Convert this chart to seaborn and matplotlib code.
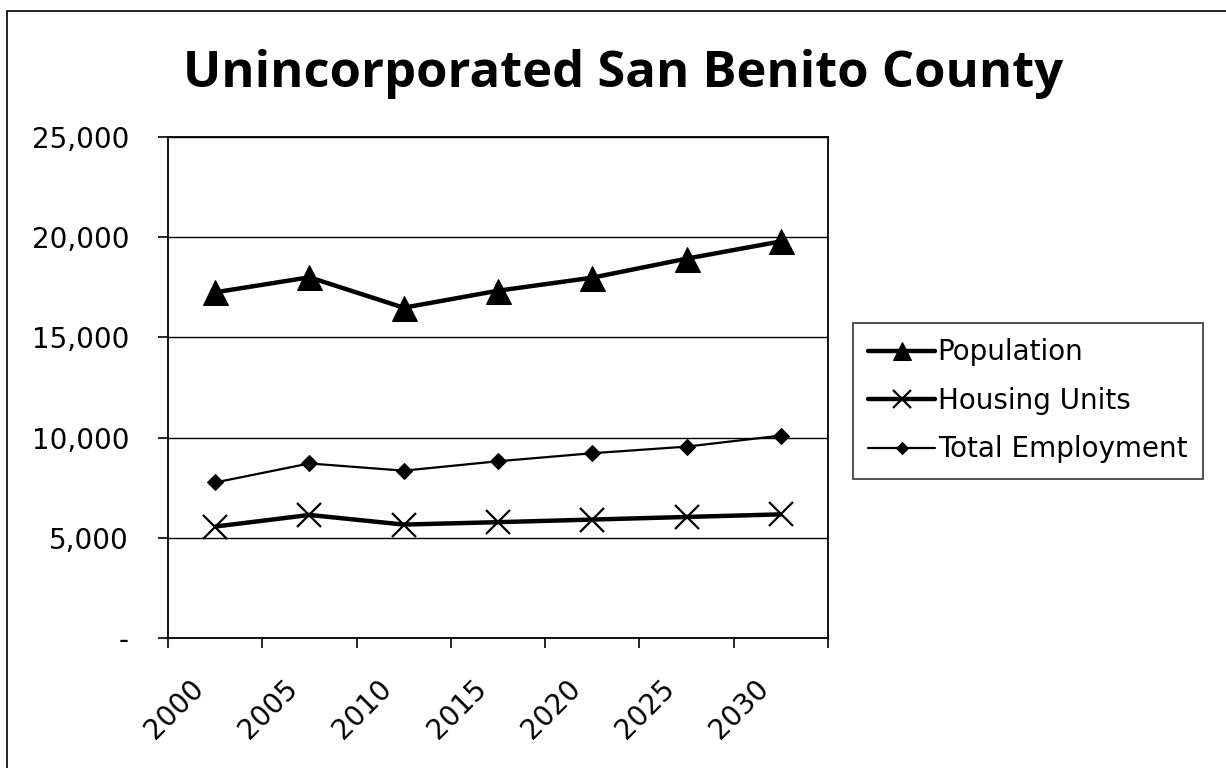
import matplotlib
matplotlib.use("Agg")
import matplotlib.pyplot as plt
import matplotlib.ticker as mticker
import matplotlib.transforms as mtransforms
import seaborn as sns
from matplotlib.patches import Rectangle

# Chart data
years = ["2000", "2005", "2010", "2015", "2020", "2025", "2030"]
population = [17250, 18000, 16480, 17330, 17980, 18930, 19790]
housing_units = [5560, 6140, 5660, 5780, 5910, 6040, 6170]
total_employment = [7760, 8710, 8350, 8820, 9220, 9550, 10100]
y_ticks = [0, 5000, 10000, 15000, 20000, 25000]

sns.set_theme(style="white", rc={
    "text.color": "black",
    "axes.labelcolor": "black",
    "xtick.color": "black",
    "ytick.color": "black",
})
plt.rcParams["font.family"] = ["DejaVu Sans"]

W, H = 1226, 768
fig = plt.figure(figsize=(W / 100, H / 100), dpi=100)
fig.patch.set_facecolor("white")

# Plot area, placed in pixel terms
ax = fig.add_axes([168 / W, 1 - 638 / H, (828 - 168) / W, (638 - 137) / H])

x = list(range(len(years)))
sns.lineplot(x=x, y=population, ax=ax, color="black", linewidth=3.2,
             marker="^", markersize=18, markeredgecolor="black",
             markerfacecolor="black", label="Population")
sns.lineplot(x=x, y=housing_units, ax=ax, color="black", linewidth=3.2,
             marker="x", markersize=17, markeredgecolor="black",
             markeredgewidth=1.6, label="Housing Units")
sns.lineplot(x=x, y=total_employment, ax=ax, color="black", linewidth=1.6,
             marker="D", markersize=8, markeredgecolor="black",
             markerfacecolor="black", label="Total Employment")

ax.set_xlim(-0.5, len(years) - 0.5)
ax.set_ylim(0, 25000)

# y axis
ax.set_yticks(y_ticks)
ax.yaxis.set_major_formatter(
    mticker.FuncFormatter(lambda v, p: "-" if v == 0 else f"{int(v):,}"))
ax.yaxis.grid(True, color="black", linewidth=1.0)
ax.tick_params(axis="y", which="major", direction="out", length=7, width=1.2,
               color="black", labelcolor="black", labelsize=20, pad=21,
               left=True)

# x axis: labels at category centres, ticks at boundaries
ax.set_xticks(x)
ax.set_xticklabels(years, rotation=45, ha="right", rotation_mode="anchor")
ax.set_xticks([i - 0.5 for i in range(len(years) + 1)], minor=True)
ax.tick_params(axis="x", which="major", length=0, labelsize=20, pad=26,
               labelcolor="black")
ax.tick_params(axis="x", which="minor", direction="out", length=7,
               width=1.2, color="black", bottom=True)
offset = mtransforms.ScaledTranslation(-26 / 100, 0, fig.dpi_scale_trans)
for lab in ax.get_xticklabels():
    lab.set_transform(lab.get_transform() + offset)

ax.set_xlabel("")
ax.set_ylabel("")
for side in ax.spines.values():
    side.set_visible(True)
    side.set_color("black")
    side.set_linewidth(1.3)

# Legend
leg = ax.legend(loc="upper left", bbox_to_anchor=(853 / W, 1 - 323 / H),
                bbox_transform=fig.transFigure, fontsize=20, frameon=True,
                fancybox=False, shadow=False, handlelength=2.4,
                handletextpad=0.1, labelspacing=0.74, borderpad=0.55,
                borderaxespad=0, markerscale=0.75)
leg.get_frame().set_edgecolor("black")
leg.get_frame().set_linewidth(1.2)
for t in leg.get_texts():
    t.set_color("black")

# Title, fitted to the reference width
title = fig.text(623 / W, 1 - 87 / H, "Unincorporated San Benito County",
                 ha="center", va="baseline", fontsize=40, fontweight="bold",
                 color="black", family=["Open Sans", "DejaVu Sans"])
fig.canvas.draw()
tw = title.get_window_extent().width
title.set_fontsize(40 * 880 / tw)

# Outer chart frame (only left and top edges are visible)
fig.add_artist(Rectangle((7 / W, -0.2), 1.2, 1.2 - 11 / H,
                         transform=fig.transFigure, fill=False,
                         edgecolor="black", linewidth=1.2))

fig.savefig("out.png", dpi=100, facecolor="white")
